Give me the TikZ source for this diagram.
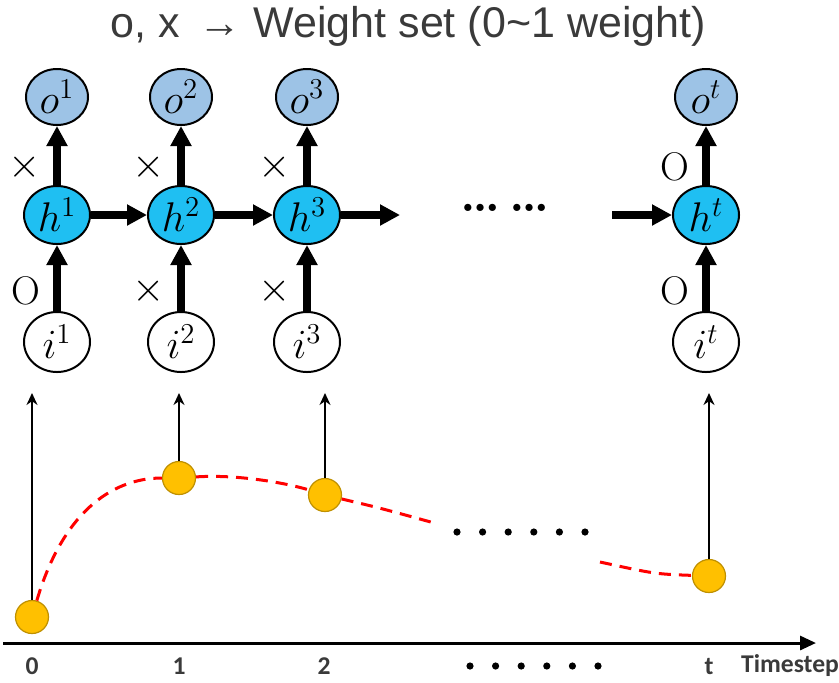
\documentclass[tikz,border=0pt]{standalone}
\usepackage{fontspec}
\setsansfont{Liberation Sans}
\newfontfamily\calib{Carlito}
\usepackage{tikz}
\usetikzlibrary{arrows.meta}
\usetikzlibrary{shapes.geometric}
\definecolor{outblue}{HTML}{9DC3E6}
\definecolor{hidblue}{HTML}{1FBFF2}
\definecolor{ballyel}{HTML}{FFC000}
\definecolor{balledge}{HTML}{BF9000}
\definecolor{titlegray}{HTML}{3A3A3A}

\begin{document}
\begin{tikzpicture}[x=0.5pt,y=-0.5pt]
      \newcommand{\gate}[1]{node[pos=0.3,left=3pt] {\fontsize{20}{20}\selectfont #1}}
      \tikzstyle{cell}  = [ellipse, draw=black, line width=1pt, inner sep=0pt, font=\fontsize{22}{22}\selectfont]
      \tikzstyle{onode} = [cell, fill=outblue, minimum width=31pt, minimum height=28pt]
      \tikzstyle{hnode} = [cell, fill=hidblue, minimum width=33pt, minimum height=29pt]
      \tikzstyle{inode} = [cell, fill=white, minimum width=33pt, minimum height=30pt]
      \tikzstyle{fat}   = [-{Triangle[length=10pt,width=10pt]}, line width=4pt]
      \tikzstyle{lift}  = [-{Stealth[length=6pt,width=5.5pt]}, line width=1.3pt]
      \tikzstyle{axis}  = [-{Triangle[length=8pt,width=7pt]}, line width=1.5pt]
      \tikzstyle{trend} = [red, line width=1.5pt, dash pattern=on 6pt off 4pt]
      \tikzstyle{ball}  = [circle, fill=ballyel, draw=balledge, line width=0.6pt, minimum size=16.5pt, inner sep=0pt]
      \tikzstyle{tick}  = [text=titlegray, font=\calib\bfseries\fontsize{12.8}{12.8}\selectfont]

      \useasboundingbox (0,0) rectangle (839,682);

      \node[text=titlegray, font=\sffamily\fontsize{21.5}{21.5}\selectfont] (title) at (408,26)
        {o, x \,→ Weight set (0\textasciitilde1 weight)};

      % network cells
      \node[onode] (o1) at (57,97) {$o^1$};
      \node[onode] (o2) at (181,97) {$o^2$};
      \node[onode] (o3) at (307,97) {$o^3$};
      \node[onode] (ot) at (706,97) {$o^t$};
      \node[hnode] (h1) at (57,215) {$h^1$};
      \node[hnode] (h2) at (181,215) {$h^2$};
      \node[hnode] (h3) at (307,215) {$h^3$};
      \node[hnode] (ht) at (706,215) {$h^t$};
      \node[inode] (i1) at (57,342) {$i^1$};
      \node[inode] (i2) at (181,342) {$i^2$};
      \node[inode] (i3) at (307,342) {$i^3$};
      \node[inode] (it) at (706,342) {$i^t$};
      \node[font=\bfseries\fontsize{25}{25}\selectfont] (gap) at (505,208) {\dots\,\dots};
      \coordinate (h3end) at (400,215);
      \coordinate (htin) at (612,215);

      \draw[fat] (i1)--(h1) \gate{O};
      \draw[fat] (i2)--(h2) \gate{$\times$};
      \draw[fat] (i3)--(h3) \gate{$\times$};
      \draw[fat] (it)--(ht) \gate{O};
      \draw[fat] (h1)--(o1) \gate{$\times$};
      \draw[fat] (h2)--(o2) \gate{$\times$};
      \draw[fat] (h3)--(o3) \gate{$\times$};
      \draw[fat] (ht)--(ot) \gate{O};
      \draw[fat] (h1)--(h2);
      \draw[fat] (h2)--(h3);
      \draw[fat] (h3)--(h3end);
      \draw[fat] (htin)--(ht);

      % weights over time
      \coordinate (axl) at (3,643);
      \coordinate (axr) at (816,643);
      \draw[axis] (axl)--(axr);

      \node[ball] (b0) at (32,617) {};
      \node[ball] (b1) at (179,478) {};
      \node[ball] (b2) at (325,495) {};
      \node[ball] (bt) at (709,576) {};
      \coordinate (f1) at (438,524);
      \coordinate (f2) at (600,562);

      \draw[trend] (b0) .. controls (62,515) and (110,478) .. (b1);
      \draw[trend] (b1) .. controls (240,474) and (290,484) .. (b2);
      \draw[trend] (b2) .. controls (380,508) .. (f1);
      \draw[trend] (f2) .. controls (655,574) .. (bt);

      \foreach \b/\x in {b0/32, b1/179, b2/325, bt/709} {
        \coordinate (top-\b) at (\x,393);
        \draw[lift] (\b)--(top-\b);
      }

      \foreach \k in {0,...,5} {
        \fill (457+25.6*\k,532) circle (1.8pt);
        \fill (470+25.6*\k,666) circle (1.8pt);
      }

      \node[tick] (l0) at (32,666) {0};
      \node[tick] (l1) at (179,666) {1};
      \node[tick] (l2) at (324,666) {2};
      \node[tick] (lt) at (709,666) {t};
      \node[tick] (lstep) at (790,666) {Timestep};
    \end{tikzpicture}
\end{document}
